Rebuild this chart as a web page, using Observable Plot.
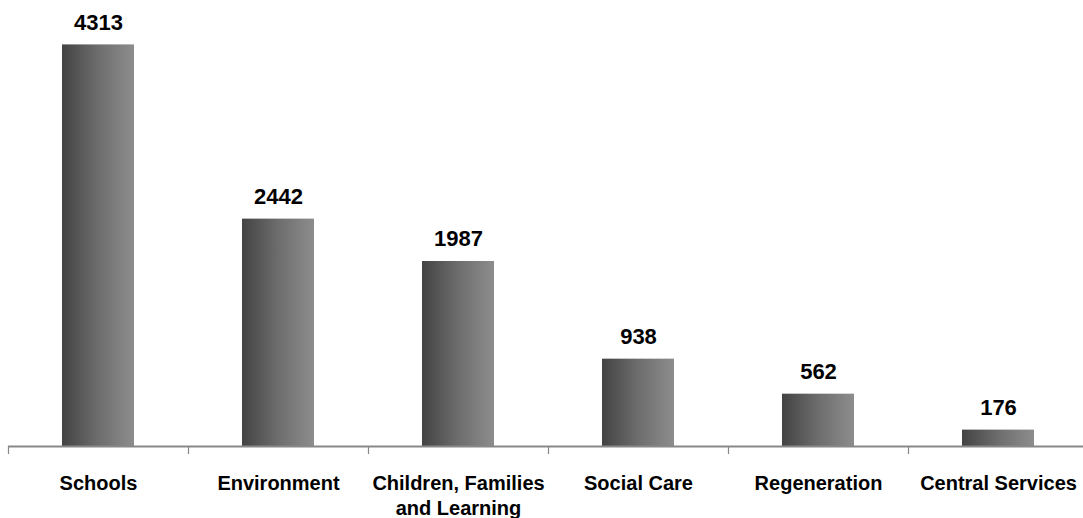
<!DOCTYPE html>
<html>
<head>
<meta charset="utf-8">
<script src="https://cdn.jsdelivr.net/npm/d3@7"></script>
<script src="https://cdn.jsdelivr.net/npm/@observablehq/plot@0.6"></script>
<style>
  html, body { margin: 0; padding: 0; background: #fff; }
  #chart svg { display: block; }
</style>
</head>
<body>
<div id="chart"></div>
<script>
// Departments and their totals
const departments = [
  "Schools",
  "Environment",
  "Children, Families\nand Learning",
  "Social Care",
  "Regeneration",
  "Central Services"
];
const totals = [4313, 2442, 1987, 938, 562, 176];

const data = departments.map((name, i) => ({name, total: totals[i]}));

const width = 1083;
const height = 518;
const xRange = [8, 1088];
const step = (xRange[1] - xRange[0]) / departments.length;
const font = "Liberation Sans, Arial, Helvetica, sans-serif";

// Horizontal gradient shared by every bar (dark on the left, light on the right)
const gradientDefs = () => {
  const defs = d3.create("svg:defs");
  const g = defs.append("linearGradient")
    .attr("id", "barShade")
    .attr("x1", "0").attr("x2", "1").attr("y1", "0").attr("y2", "0");
  g.append("stop").attr("offset", "0%").attr("stop-color", "#434343");
  g.append("stop").attr("offset", "50%").attr("stop-color", "#6d6d6d");
  g.append("stop").attr("offset", "100%").attr("stop-color", "#8d8d8d");
  return defs.node();
};

const chart = Plot.plot({
  width,
  height,
  marginLeft: 8,
  marginRight: 0,
  marginTop: 27,
  marginBottom: 72,
  style: {fontFamily: font, background: "#fff", color: "#000"},
  x: {domain: departments, range: xRange, paddingInner: 0.6, paddingOuter: 0.3, label: null},
  y: {domain: [0, 4500], axis: null},
  marks: [
    gradientDefs,
    Plot.barY(data, {x: "name", y: "total", fill: "url(#barShade)"}),
    Plot.ruleY([0], {stroke: "#888", strokeWidth: 1.8}),
    // category separators below the baseline
    Plot.axisX({tickSize: 8, text: null, dx: -step / 2, stroke: "#888", strokeWidth: 1.2}),
    // category names
    Plot.axisX({
      tickSize: 0,
      tickPadding: 25,
      fontSize: 20,
      fontWeight: "bold",
      lineHeight: 1.28,
      fill: "#000"
    }),
    // value labels above each bar
    Plot.text(data, {
      x: "name",
      y: "total",
      text: d => String(d.total),
      lineAnchor: "bottom",
      dy: -15,
      fontSize: 22,
      fontWeight: "bold",
      fill: "#000"
    })
  ]
});

document.getElementById("chart").appendChild(chart);
</script>
</body>
</html>
